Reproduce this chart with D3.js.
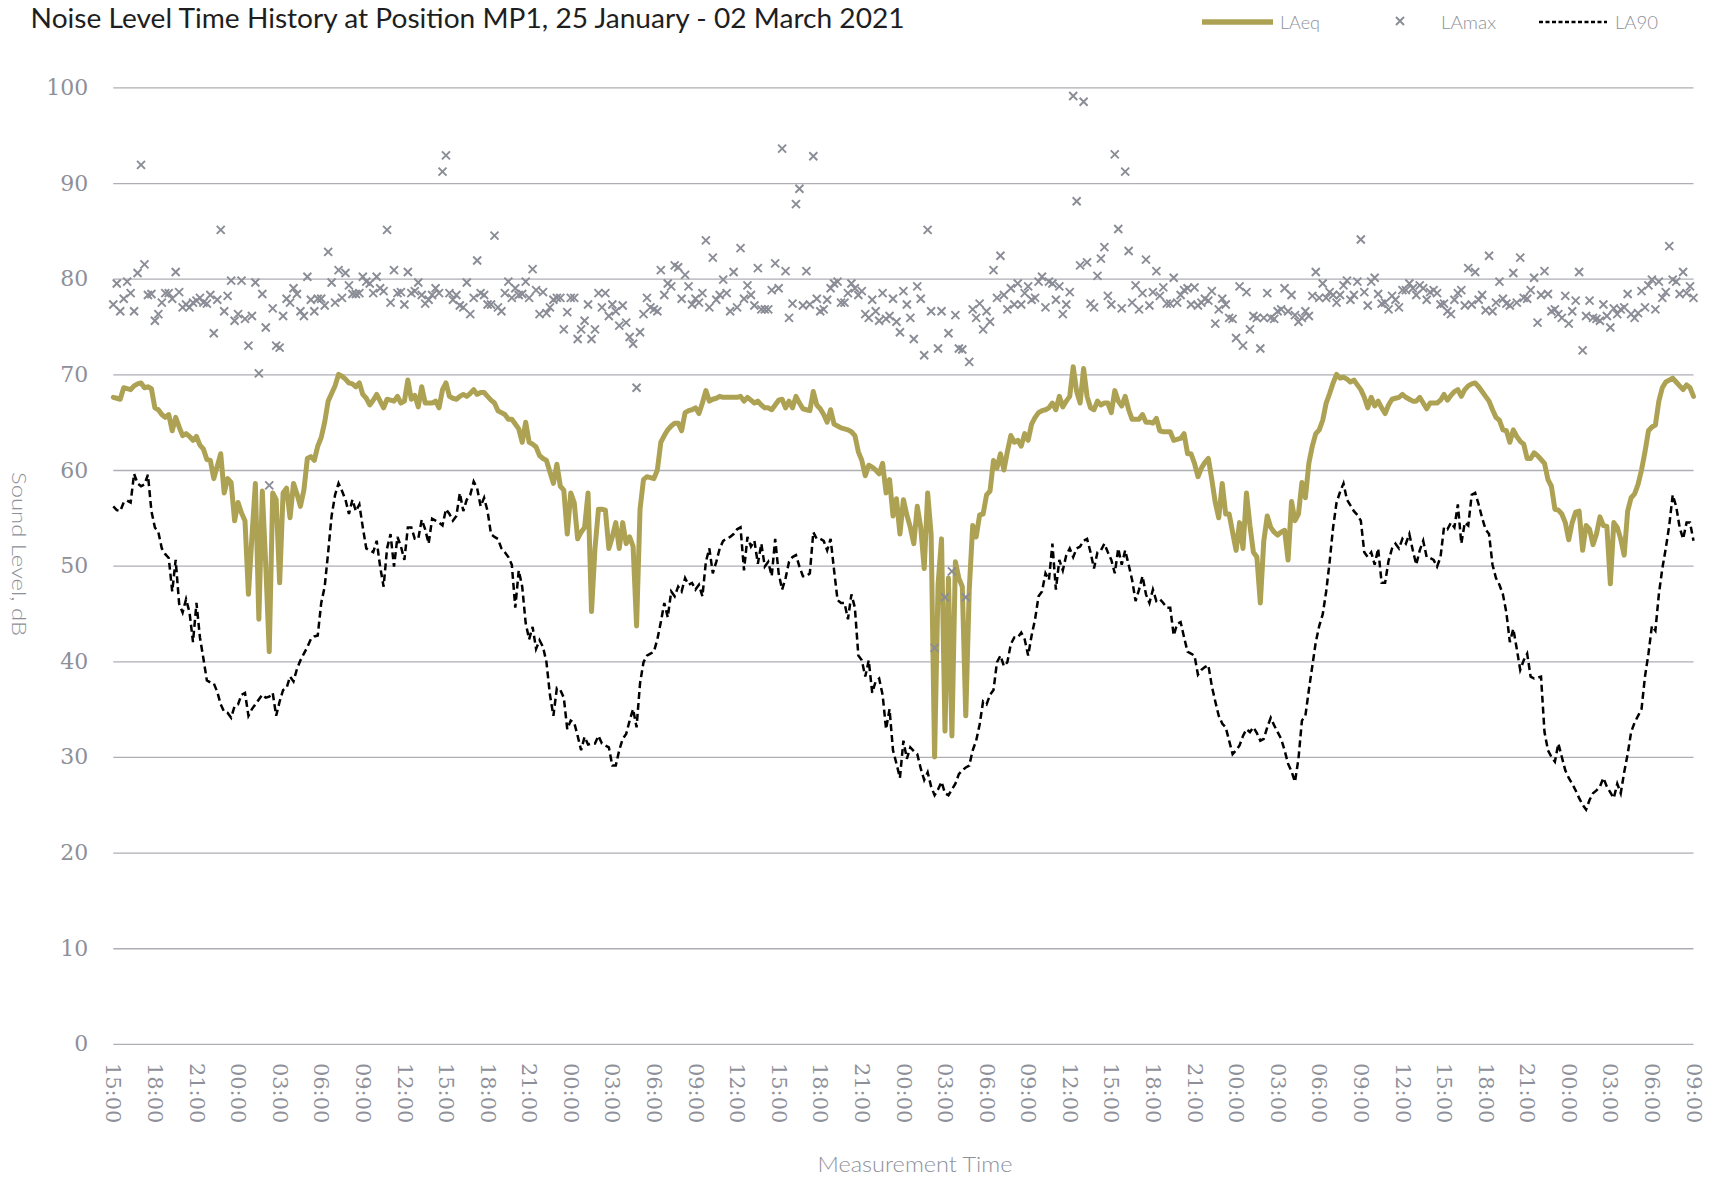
<!DOCTYPE html>
<html><head><meta charset="utf-8">
<script src="https://cdn.jsdelivr.net/npm/d3@7"></script>
<style>
html,body{margin:0;padding:0;background:#fff;}
svg{display:block;}
</style></head>
<body>
<svg id="chart" width="1714" height="1179"></svg>
<script>
// 15-minute samples from 15:00 (day 1) to 09:00 (day 5)
const LAeq = [
67.6,67.5,67.4,68.6,68.5,68.4,68.8,69,69.1,68.6,68.7,68.5,
66.5,66.3,65.8,65.5,65.8,64.1,65.5,64.5,63.6,63.8,63.5,63.1,
63.5,62.6,62.2,61.1,61,59.1,60.4,61.7,57.6,59.1,58.7,54.7,
56.6,55.5,54.7,47,53,58.6,44.4,57.8,50,41,57.6,56.9,
48.2,57.6,58.1,55,58.6,57.5,56.2,57.9,61.2,61.4,61,62.5,
63.4,65,67.2,68,68.8,70,69.8,69.5,69.1,69,68.7,69.1,
67.9,67.5,66.8,67.3,67.9,67.2,66.5,67.4,67.3,67.2,67.7,67,
67.2,69.4,67.4,67.8,66.6,68.7,67,67,67,67.2,66.5,68.4,
69.1,67.7,67.5,67.4,67.7,67.9,67.7,68,68.4,67.9,68.1,68.1,
67.7,67.3,67,66.2,66,65.8,65.3,65.3,64.8,64.3,62.9,65,
62.9,62.7,62.4,61.5,61.2,61,59.8,58.6,60.6,58.3,57.9,53.3,
57.6,56.6,52.8,53.5,54,57.6,45.2,51.8,55.9,55.9,55.8,51.8,
53,54.5,51.8,54.5,52.3,53,52,43.7,55.9,59,59.3,59.2,
59.1,60,62.9,63.6,64.2,64.6,64.9,64.9,64.1,66,66.2,66.3,
66.5,65.9,67,68.3,67.2,67.4,67.5,67.7,67.6,67.6,67.6,67.6,
67.6,67.7,67.2,67.6,67.3,67,67.2,66.8,66.5,66.5,66.3,66.8,
67.3,67.4,66.5,67.2,66.5,67.7,67,66.4,66.3,66.2,68.2,66.8,
66.4,65.8,65,66.3,64.8,64.6,64.4,64.3,64.2,64,63.6,61.9,
61,59.4,60.5,60.3,60,59.6,60.7,57.6,59,55.2,57,53.3,
56.9,55.3,54,52.3,56.2,54,49.7,57.6,53.3,30,48,52.8,
32.7,48.7,32.2,50.4,48.7,47.8,34.3,47.5,54.2,53,55.3,55.4,
57.4,57.8,61,60.2,61.7,60,61.9,63.6,62.9,63.1,62.5,63.8,
63.1,64.8,65.5,66,66.2,66.3,66.5,67,66.3,67.7,66.6,67.2,
67.7,70.8,68.2,67,70.6,67.7,66.5,66.3,67.2,66.8,67,67,
66,68.3,67.2,66.7,67.7,66.3,65.3,65.3,65.3,65.8,65,65,
64.9,65.4,64.1,64,64,64,63.1,63.2,63.3,63.8,61.7,61.7,
60.7,59.3,60.2,60.8,61.2,59,56.6,55,58.6,55.4,55.4,53.5,
51.6,54.5,51.8,57.6,54.2,51.4,50.9,46.1,52.6,55.2,54,53.5,
53.2,53.5,53.7,50.6,56.7,54.7,55.4,58.7,57.1,60.7,62.5,63.8,
64.2,65.2,67,68,69.1,70,69.6,69.7,69.5,69.2,69.4,68.9,
68.4,67.6,66.5,67.6,66.7,67.2,66.5,65.9,66.8,67.4,67.5,67.6,
67.9,67.6,67.4,67.2,67.2,67.6,67,66.4,67,67,67,67.3,
67.9,67.3,67.8,68.2,68.4,67.7,68.4,68.8,69,69.1,68.7,68.2,
67.7,67.2,66.3,65.5,65.2,64.2,64.1,62.9,64.2,63.5,63,62.7,
61.2,61.2,61.8,61.5,61.1,60.7,59,58.3,55.9,55.8,55.4,54.5,
52.7,54.5,55.6,55.7,51.6,54.2,53.8,52.2,53.3,55.1,54.2,54.1,
48.1,54.5,54,52.8,51.1,55.7,57.1,57.5,58.5,60,61.9,64.1,
64.5,64.7,67.2,68.6,69.2,69.4,69.6,69.2,68.8,68.4,68.9,68.6,
67.7];

const LAmax = [
77.3,79.5,76.6,77.9,79.7,78.5,76.6,80.6,91.9,81.5,78.3,78.4,
75.6,76.3,77.5,78.5,78.5,77.9,80.7,78.6,77,77.3,77,77.5,
77.7,78,77.5,77.4,78.3,74.3,77.8,85.1,76.6,78.2,79.8,75.6,
76.3,79.8,75.8,73,76.1,79.6,70.1,78.4,74.9,58.4,76.9,73,
72.8,76.1,77.9,77.5,79,78.4,76.6,76.1,80.2,77.8,76.6,77.9,
77.9,77.2,82.8,79.6,77.5,80.9,78,80.6,79.3,78.4,78.4,78.5,
80.2,79.7,79.5,78.5,80.2,79,78.7,85.1,77.5,80.9,78.5,78.6,
77.3,80.7,78.5,78.7,79.6,78.3,77.4,77.8,78.3,79,78.5,91.2,
92.9,78.5,77.8,78.3,77.2,77,79.6,76.3,78,81.9,78.5,78.3,
77.3,77.3,84.5,77,76.6,78.5,79.7,78,79,78.3,78.4,79.7,
78,81,78.8,76.3,78.6,76.4,77,77.8,78,78,74.7,76.5,
78,78,73.7,74.7,75.6,77.3,73.7,74.7,78.5,77,78.5,76.1,
77.3,76.6,75.1,77.2,75.4,73.9,73.2,68.6,74.4,76.3,78,77,
76.8,76.6,80.9,78.3,79.5,79.2,81.4,81.2,77.9,80.4,79.2,77.3,
77.9,77.5,78.5,84,77,82.2,77.8,78.3,79.9,78.5,76.6,80.7,
77,83.2,77.9,79.3,78.3,77.2,81.1,76.8,76.8,76.8,78.8,81.6,
79,93.6,80.8,75.9,77.4,87.8,89.4,77.2,80.8,77.3,92.8,77.9,
76.6,76.8,77.8,79,79.5,79.7,77.5,77.5,78.5,79.5,79,78.3,
78.7,76.3,75.9,77.8,76.6,75.6,78.5,75.8,76.1,77.9,75.5,74.4,
78.7,77.3,75.9,73.7,79.2,77.9,72,85.1,76.6,41.4,72.7,76.6,
46.7,74.3,49.4,76.2,72.7,72.6,46.7,71.3,76.8,75.9,77.4,74.7,
76.6,75.5,80.9,78,82.4,78.3,76.8,79,77.3,79.5,77.3,78.5,
79.2,77.8,78,79.7,80.2,77,79.7,79.5,77.8,79.2,76.3,77.3,
78.6,99.1,88.1,81.4,98.5,81.7,77.4,77,80.3,82.1,83.3,78.2,
77.3,93,85.2,76.9,91.2,82.9,77.5,79.3,76.8,78.5,82,77.2,
78.6,80.8,78.2,79.1,77.4,77.4,80.1,77.5,78.3,78.8,79,77.3,
79.1,77.2,77.5,77.9,77.7,78.7,75.3,76.8,77.9,77.3,75.9,75.8,
73.8,79.2,73,78.6,74.7,76.1,75.9,72.7,75.9,78.5,75.9,75.8,
76.6,76.8,79,76.6,78.3,76.2,75.5,75.9,76.6,76.1,78.2,80.7,
78,79.5,78,78.6,78.3,77.5,78.3,79.3,79.8,77.8,78.3,79.7,
84.1,78.6,77.2,79.7,80.1,78.4,77.4,77.5,76.8,78.2,77.8,77,
78.8,78.8,79.5,79,78.3,79.3,79,77.8,78.6,78.8,78.5,77.3,
77.4,76.6,76.3,77.8,78.5,78.8,77.2,81.1,77.3,80.7,77.8,78.3,
76.7,82.4,76.6,77.5,79.7,77.9,77.4,77.2,80.6,77.5,82.2,78,
77.9,78.8,80.1,75.4,78.3,80.8,78.4,76.6,76.8,76.3,75.9,78.2,
75.3,76.6,77.7,80.7,72.5,76.1,77.7,75.9,75.8,75.6,77.3,76.1,
74.9,76.9,76.3,76.8,77,78.4,76.3,75.9,76.4,78.7,77,79.3,
79.9,76.8,79.7,78,78.6,83.4,79.9,79.7,78.4,80.7,78.5,79.2,
78];

const LA90 = [
56.2,55.8,55.7,56.6,56.8,56.6,59.6,58.6,58.3,58.5,59.5,55.7,
54,53.5,51.8,51.2,50.8,47.3,50.6,46,45.1,46.5,45.1,42,
46.1,42.5,40.3,38,37.8,37.7,36.8,35.5,34.7,34.6,34.1,35.3,
35.5,36.5,36.7,34.3,35,35.5,36,36.5,36.2,36.3,36.7,34.3,
35.8,37,37.2,38.4,37.9,39.2,40.1,40.8,41.5,42.3,42.6,42.7,
46.1,47.8,51.4,55.2,57.4,58.6,57.8,56.9,55.4,56.9,55.7,56.4,
54,51.8,51.6,51.4,52.6,49.9,47.8,51.8,53.3,49.9,53,52,
50.6,54,54,52.8,52.8,54.8,53.8,52.3,54.9,54.7,54.5,54.2,
55.9,55.4,54.7,55.2,57.6,55.7,56.9,57.4,58.8,58.1,56.2,57.1,
55.7,53.3,53,52.8,51.8,51.4,50.9,50.1,45.6,49.5,47.8,44,
42.3,43.6,41.3,42.2,41.5,39.9,36.5,34.3,37.2,37,36.2,32.9,
33.8,33.6,32.2,30.7,32.1,31.3,31.4,31.4,32.2,31.4,31.2,31,
29.1,29.1,30.7,31.9,32.4,33.8,35,33.1,37.7,39.9,40.6,40.8,
41,42.3,44.1,46.1,44.6,47.3,46.8,47.8,47.3,48.7,48,48.2,
47.5,48,46.8,50.4,51.8,49.2,50.4,51.8,52.6,52.8,53,53.3,
53.8,54,49.5,53,52,52.6,50.2,52.3,49.9,50.4,48.9,52.8,
49.2,47.5,48.7,50.4,50.9,51.1,49.9,48.9,48.9,49.2,53.5,52.8,
52.8,52.6,51.6,52.8,49.5,46.4,46.1,46.1,44.4,47,45.6,40.6,
40.1,38.4,40.1,36.7,37.9,38.2,36.5,32.9,35,30.7,29.3,27.8,
31.7,29.8,31,30.6,30.3,28.8,27.6,28.4,26.9,26,26.6,27.4,
26.2,26,26.6,27.2,28.2,28.6,28.9,29.1,30.7,31.7,33.4,35.8,
35.5,36.5,37,39.9,40.6,39.5,39.9,41.8,42.5,42.5,43,42.3,
40.6,42.7,44.4,46.8,47.3,49.2,48.5,52.3,47.5,50.6,49.5,51.1,
51.8,50.9,51.8,52,52.6,52.8,51.4,49.7,51.4,51.6,52.3,51.4,
50.6,49.2,51.8,50.1,51.6,50.1,48.5,46.3,47.5,48.9,47,46.1,
47.5,46.3,46.5,46.1,45.6,45.6,42.7,43.9,44.1,42.5,41,40.8,
40.6,38.6,39.1,39.4,39.6,37.4,35.8,34.3,33.5,33.1,31.7,30.3,
30.7,31.2,32.2,32.9,32.6,33.1,32.5,31.7,31.9,33.1,34.1,33.3,
32.6,31.9,30.7,29.3,28.5,27.4,29.8,33.8,34.3,37,39.5,42,
43.7,44.9,47.3,50.4,54,56.6,57.7,58.6,56.9,56.3,55.7,55.3,
54.7,51.4,50.9,51.4,50.1,51.8,48.2,48.2,50.5,51.8,52.3,51.8,
52.8,52.3,53.3,51.6,50.1,51.6,52.6,50.9,50.8,50.6,49.9,50.9,
54,53.8,54.5,54,56.4,52.3,54.5,54.2,57.4,57.6,56.4,55,
53.8,53.3,50.1,48.7,48,47,45.1,42,43.4,41.3,39.1,40.1,
40.8,38.4,38.2,38.3,38.4,32.6,30.7,30,29.5,31.4,30,28.6,
27.8,27.2,26.5,25.7,25,24.5,25.5,26.2,26.5,26.9,27.8,26.9,
26.3,25.7,27.2,26.2,28.4,30.3,32.6,33.6,34.3,35,38.4,40.8,
43.7,43.2,47,49.7,51.8,54.2,57.4,56.2,54,52.8,54.5,54.5,
52.6];

const tickLabels = ["15:00","18:00","21:00","00:00","03:00","06:00","09:00","12:00",
"15:00","18:00","21:00","00:00","03:00","06:00","09:00","12:00",
"15:00","18:00","21:00","00:00","03:00","06:00","09:00","12:00",
"15:00","18:00","21:00","00:00","03:00","06:00","09:00","12:00",
"15:00","18:00","21:00","00:00","03:00","06:00","09:00"];
const samplesPerLabel = 12;
const yTicks = [0,10,20,30,40,50,60,70,80,90,100];
const seriesNames = ["LAeq","LAmax","LA90"];

const C = {olive:"#ada254", grey:"#8a8c96", grid:"#aeaeb5", text:"#8e9099"};
const svg = d3.select("#chart");
const L = 113.3, R = 1693.5, T = 87.4, B = 1043.9;
const n = LAeq.length;
const x = d3.scaleLinear().domain([0, n-1]).range([L, R]);
const y = d3.scaleLinear().domain([0, 100]).range([B, T]);

// grid + y axis
const gy = svg.append("g").attr("transform", `translate(${L},0)`)
  .call(d3.axisLeft(y).tickValues(yTicks).tickSize(-(R-L)).tickPadding(25).tickFormat(d3.format("d")));
gy.select(".domain").remove();
gy.selectAll(".tick line").attr("stroke", C.grid).attr("stroke-width", 1.3);
gy.selectAll(".tick text").attr("fill", C.text).style("font-family","'DejaVu Serif'").style("font-size","22px");

// x axis
const xt = d3.range(0, n, samplesPerLabel);
const gx = svg.append("g").attr("transform", `translate(0,${B})`)
  .call(d3.axisBottom(x).tickValues(xt).tickSize(0).tickFormat((d,i)=>tickLabels[i]));
gx.select(".domain").remove();
gx.selectAll(".tick text")
  .attr("transform","rotate(90)").attr("x", 19).attr("y", 0).attr("dy","0.35em")
  .style("text-anchor","start").attr("fill", C.text)
  .style("font-family","'DejaVu Serif'").style("font-size","21px");

// LAeq line
svg.append("path").datum(LAeq)
  .attr("d", d3.line().x((d,i)=>x(i)).y(d=>y(d)))
  .attr("fill","none").attr("stroke", C.olive).attr("stroke-width", 5)
  .attr("stroke-linejoin","round").attr("stroke-linecap","round");

// LAmax markers
const s = 4;
const cross = `M${-s},${-s}L${s},${s}M${-s},${s}L${s},${-s}`;
svg.append("g").selectAll("path").data(LAmax).join("path")
  .attr("transform",(d,i)=>`translate(${x(i)},${y(d)})`)
  .attr("d", cross).attr("stroke", C.grey).attr("stroke-width", 1.9).attr("fill","none");

// LA90 dashed
svg.append("path").datum(LA90)
  .attr("d", d3.line().x((d,i)=>x(i)).y(d=>y(d)))
  .attr("fill","none").attr("stroke","#000").attr("stroke-width", 2.5)
  .attr("stroke-dasharray","7,4");

// titles
svg.append("text").attr("x", 30.6).attr("y", 28.4)
  .text("Noise Level Time History at Position MP1, 25 January - 02 March 2021")
  .attr("fill","#1e1e1e").style("font-family","Lato").style("font-size","27px")
  .attr("textLength", 874).attr("lengthAdjust","spacingAndGlyphs");

svg.append("text").attr("transform","translate(20,554) rotate(90)")
  .attr("text-anchor","middle").attr("dominant-baseline","central")
  .text("Sound Level, dB").attr("fill", C.text)
  .style("font-family","Lato").style("font-weight","300").style("font-size","20px")
  .attr("textLength", 164).attr("lengthAdjust","spacingAndGlyphs");

svg.append("text").attr("x", 915).attr("y", 1172).attr("text-anchor","middle")
  .text("Measurement Time").attr("fill", C.text)
  .style("font-family","Lato").style("font-weight","300").style("font-size","21px")
  .attr("textLength", 195).attr("lengthAdjust","spacingAndGlyphs");

// legend
const lg = svg.append("g");
lg.append("line").attr("x1",1202).attr("x2",1273).attr("y1",22).attr("y2",22)
  .attr("stroke", C.olive).attr("stroke-width", 5.5);
lg.append("path").attr("transform","translate(1400,21)").attr("d", cross)
  .attr("stroke", C.grey).attr("stroke-width", 1.9);
lg.append("line").attr("x1",1539).attr("x2",1607).attr("y1",22).attr("y2",22)
  .attr("stroke","#000").attr("stroke-width", 2.5).attr("stroke-dasharray","4,2.5");
const lgText = [[1280, 40],[1441, 55],[1615, 43]];
seriesNames.forEach((nm, k) => {
  lg.append("text").attr("x", lgText[k][0]).attr("y", 29).text(nm)
    .attr("fill", C.text).style("font-family","Lato").style("font-weight","300").style("font-size","17px")
    .attr("textLength", lgText[k][1]).attr("lengthAdjust","spacingAndGlyphs");
});
</script>
</body></html>
